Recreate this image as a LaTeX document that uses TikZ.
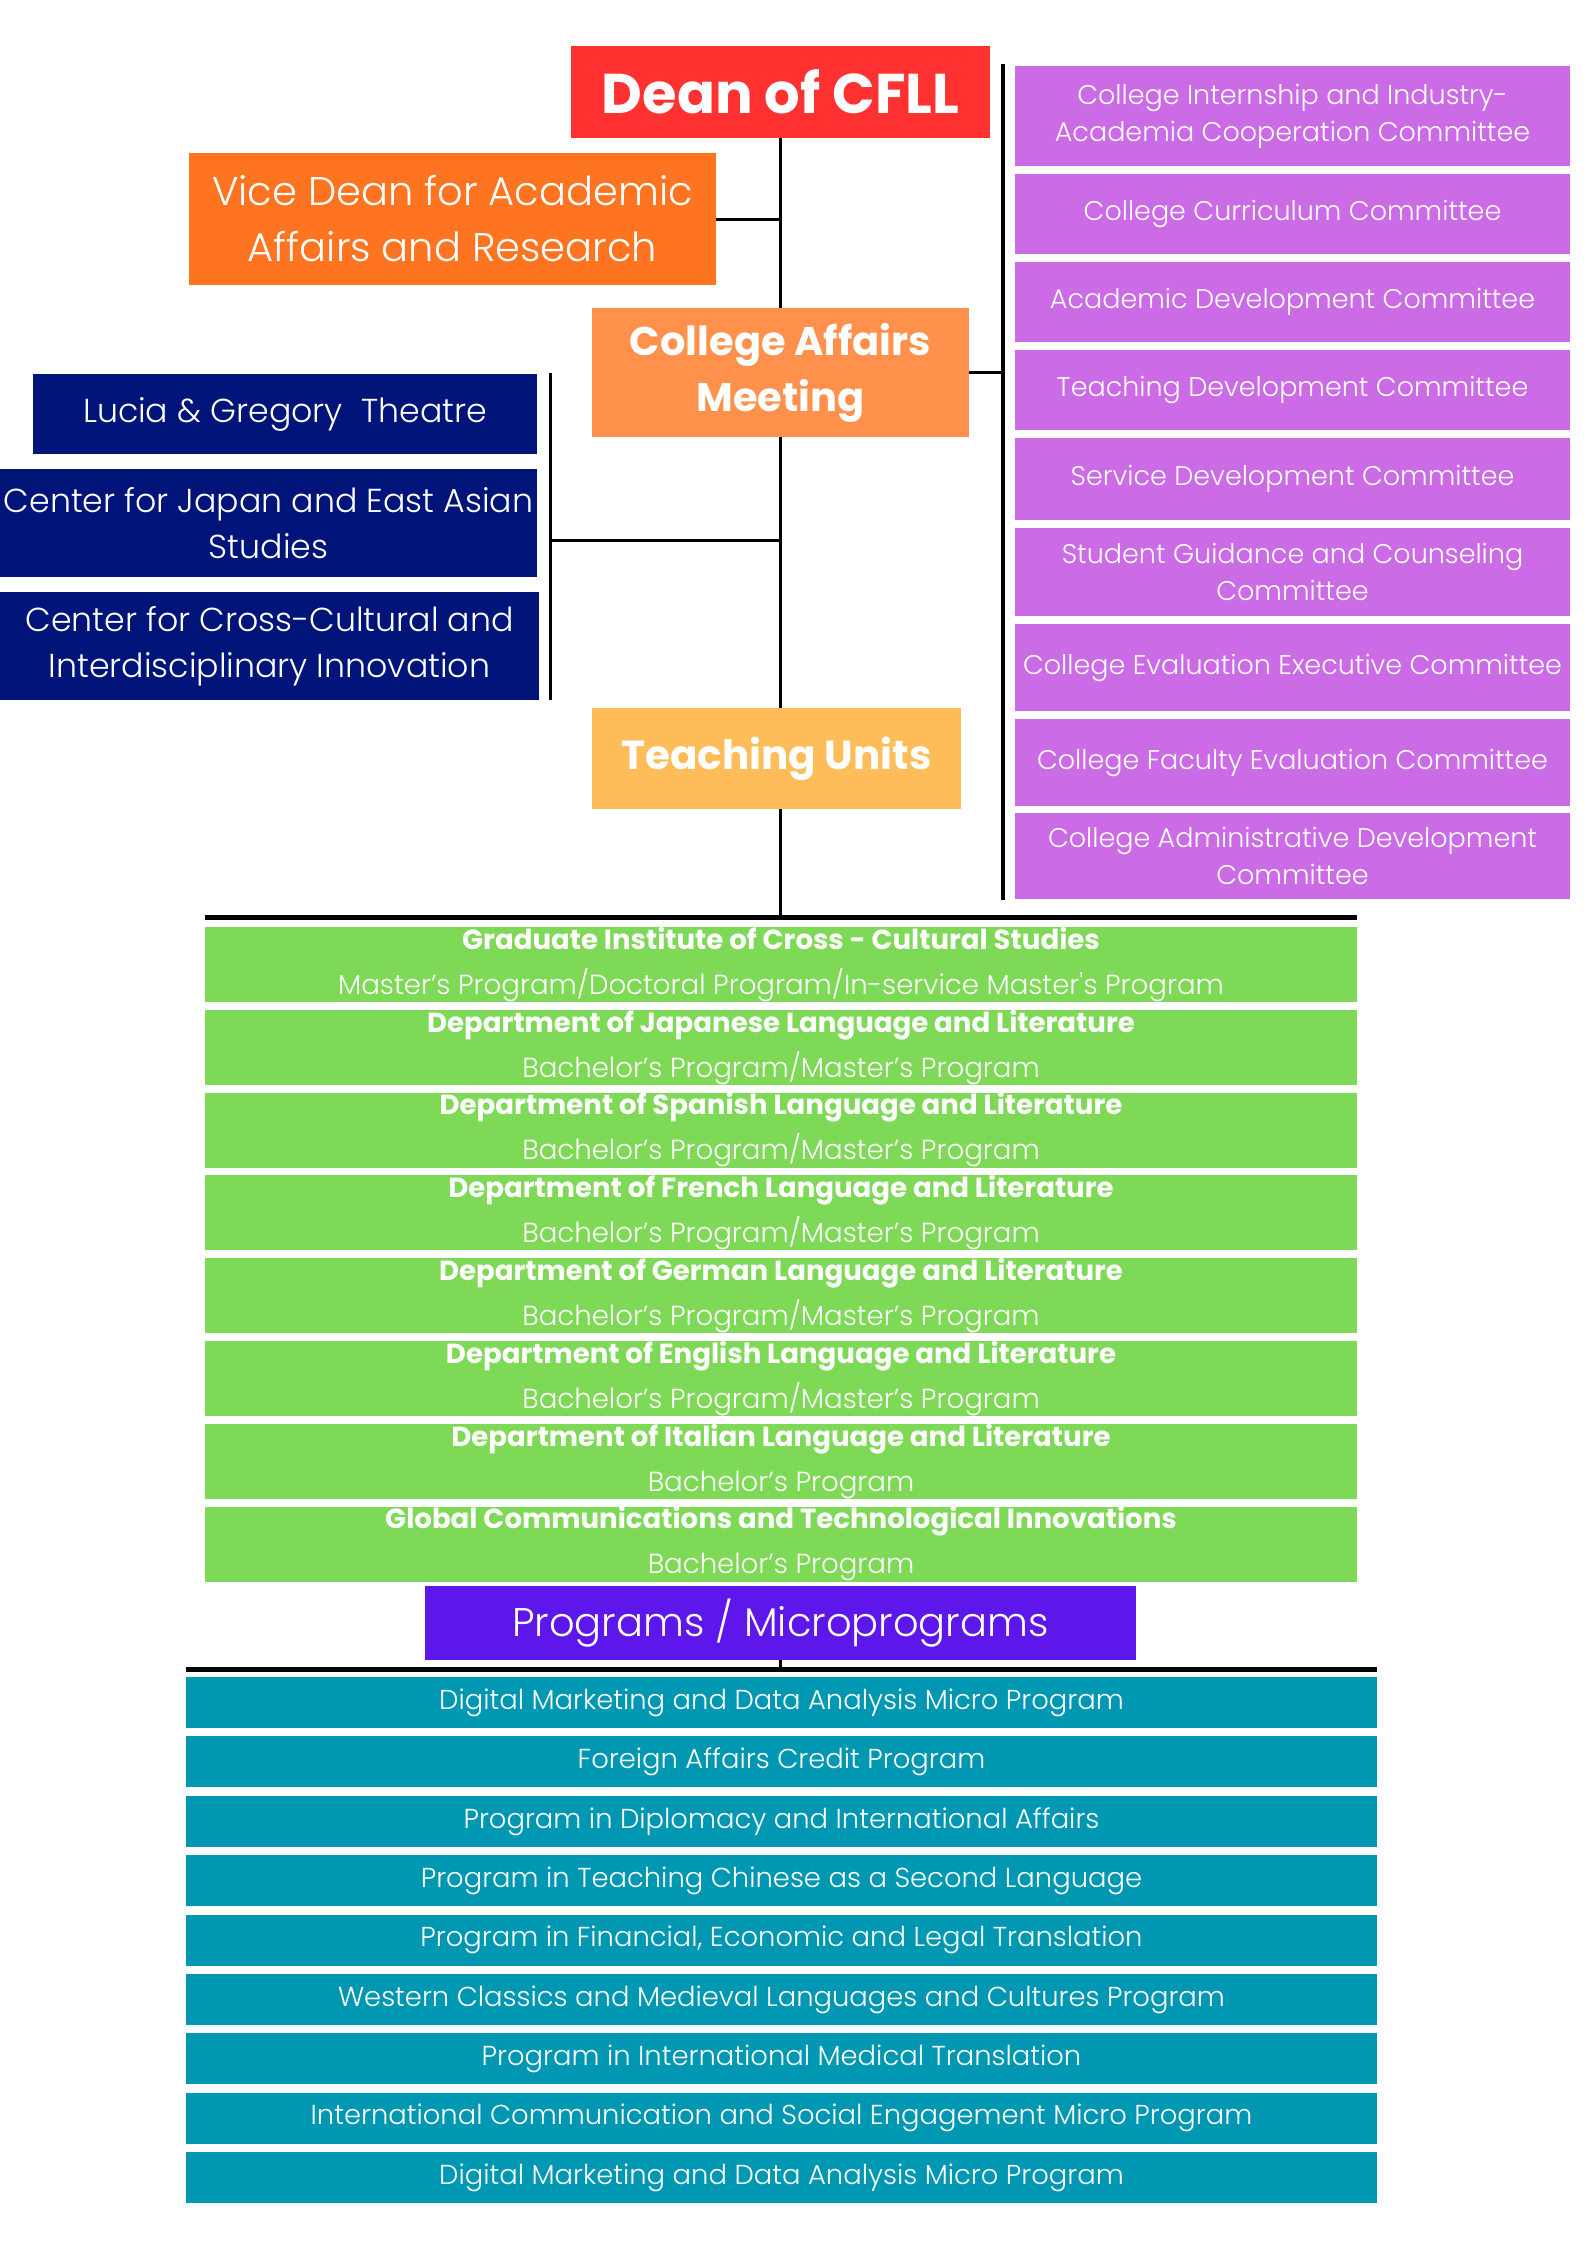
\documentclass[tikz,border=0pt]{standalone}
\usepackage{fontspec}
\setmainfont{Poppins}
\IfFontExistsTF{Poppins Light}{\newfontfamily\lightfont{Poppins Light}}{\newfontfamily\lightfont{Poppins}}
\usepackage{tikz}
\usetikzlibrary{positioning}
\definecolor{deanred}{HTML}{FF3131}
\definecolor{viceorange}{HTML}{FF7420}
\definecolor{camorange}{HTML}{FF914D}
\definecolor{tuyellow}{HTML}{FFBD59}
\definecolor{compurple}{HTML}{CB6CE6}
\definecolor{ctrnavy}{HTML}{00147A}
\definecolor{depgreen}{HTML}{7ED957}
\definecolor{prgviolet}{HTML}{5E17EB}
\definecolor{micteal}{HTML}{0097B2}
\tikzset{
  orgbox/.style = {align=center, inner sep=0pt, text=white, draw=none},
  org_dean/.style = {orgbox, fill=deanred, minimum width=419pt, minimum height=92pt,
    font=\fontsize{56}{60}\selectfont\bfseries},% doyen
  org_vice/.style = {orgbox, fill=viceorange, minimum width=527pt, minimum height=132pt,
    font=\fontsize{40}{56}\selectfont\lightfont},% vice-doyen
  org_cam/.style = {orgbox, fill=camorange, minimum width=377pt, minimum height=129pt,
    font=\fontsize{40}{56}\selectfont\bfseries},% conseil
  org_tu/.style = {orgbox, fill=tuyellow, minimum width=369pt, minimum height=101pt,
    font=\fontsize{40.5}{44}\selectfont\bfseries},% unites
  org_com/.style = {orgbox, fill=compurple, minimum width=555pt,
    font=\fontsize{27}{37}\selectfont\lightfont},% comites
  org_ctr/.style = {orgbox, fill=ctrnavy, minimum height=108pt,
    font=\fontsize{33.2}{46}\selectfont\lightfont},% centres
  org_dep/.style = {orgbox, fill=depgreen, minimum width=1152pt, minimum height=75pt,
    font=\fontsize{27.6}{45}\selectfont},% departements
  org_prg/.style = {orgbox, fill=prgviolet, minimum width=711pt, minimum height=74pt,
    font=\fontsize{40}{44}\selectfont\lightfont},% programmes
  org_mic/.style = {orgbox, fill=micteal, minimum width=1191pt, minimum height=51pt,
    font=\fontsize{27.4}{30}\selectfont\lightfont},% micro-programmes
  link/.style = {draw=black, line width=3pt},
  rail/.style = {draw=black, line width=4pt},
  bar/.style = {draw=black, line width=5pt}
}

\begin{document}
\begin{tikzpicture}[x=1pt,y=-1pt]
\useasboundingbox[fill=white] (0,0) rectangle (1587,2245);

\node [org_dean] (dean) at (780.5,92) {Dean of CFLL};
\node [org_vice] (vice) at (452.5,219) {Vice Dean for Academic\\Affairs and Research};
\node [org_cam] (cam) at (780.5,372.5) {College Affairs\\Meeting};
\node [org_tu] (tu) at (776.5,758.5) {Teaching Units};

% comites
\node [org_com, minimum height=100pt] (com1) at (1292.5,116) {College Internship and Industry-\\Academia Cooperation Committee};
\node [org_com, minimum height=80pt] (com2) at (1292.5,214) {College Curriculum Committee};
\node [org_com, minimum height=80pt] (com3) at (1292.5,302) {Academic Development Committee};
\node [org_com, minimum height=80pt] (com4) at (1292.5,390) {Teaching Development Committee};
\node [org_com, minimum height=82pt] (com5) at (1292.5,479) {Service Development Committee};
\node [org_com, minimum height=88pt] (com6) at (1292.5,572) {Student Guidance and Counseling\\Committee};
\node [org_com, minimum height=87pt] (com7) at (1292.5,667.5) {College Evaluation Executive Committee};
\node [org_com, minimum height=87pt] (com8) at (1292.5,762.5) {College Faculty Evaluation Committee};
\node [org_com, minimum height=86pt] (com9) at (1292.5,856) {College Administrative Development\\Committee};

% centres
\node [org_ctr, minimum width=504pt, minimum height=80pt] (ctr1) at (285,414) {Lucia \& Gregory\ \ Theatre};
\node [org_ctr, minimum width=537pt] (ctr2) at (268.5,523) {Center for Japan and East Asian\\Studies};
\node [org_ctr, minimum width=539pt] (ctr3) at (269.5,646) {Center for Cross-Cultural and\\Interdisciplinary Innovation};

% departements
\node [org_dep] (dep1) at (781,964.5) {\textbf{Graduate Institute of Cross - Cultural Studies}\\{\lightfont Master’s Program/Doctoral Program/In-service Master's Program}};
\node [org_dep, below=7.4pt of dep1] (dep2) {\textbf{Department of Japanese Language and Literature}\\{\lightfont Bachelor’s Program/Master’s Program}};
\node [org_dep, below=7.4pt of dep2] (dep3) {\textbf{Department of Spanish Language and Literature}\\{\lightfont Bachelor’s Program/Master’s Program}};
\node [org_dep, below=7.4pt of dep3] (dep4) {\textbf{Department of French Language and Literature}\\{\lightfont Bachelor’s Program/Master’s Program}};
\node [org_dep, below=7.4pt of dep4] (dep5) {\textbf{Department of German Language and Literature}\\{\lightfont Bachelor’s Program/Master’s Program}};
\node [org_dep, below=7.4pt of dep5] (dep6) {\textbf{Department of English Language and Literature}\\{\lightfont Bachelor’s Program/Master’s Program}};
\node [org_dep, below=7.4pt of dep6] (dep7) {\textbf{Department of Italian Language and Literature}\\{\lightfont Bachelor’s Program}};
\node [org_dep, below=7.4pt of dep7] (dep8) {\textbf{Global Communications and Technological Innovations}\\{\lightfont Bachelor’s Program}};

\node [org_prg] (prg) at (780.5,1623) {Programs / Microprograms};

% micro-programmes
\node [org_mic] (mic1) at (781.5,1702.5) {Digital Marketing and Data Analysis Micro Program};
\node [org_mic, below=8pt of mic1] (mic2) {Foreign Affairs Credit Program};
\node [org_mic, below=8pt of mic2] (mic3) {Program in Diplomacy and International Affairs};
\node [org_mic, below=8pt of mic3] (mic4) {Program in Teaching Chinese as a Second Language};
\node [org_mic, below=8pt of mic4] (mic5) {Program in Financial, Economic and Legal Translation};
\node [org_mic, below=8pt of mic5] (mic6) {Western Classics and Medieval Languages and Cultures Program};
\node [org_mic, below=8pt of mic6] (mic7) {Program in International Medical Translation};
\node [org_mic, below=8pt of mic7] (mic8) {International Communication and Social Engagement Micro Program};
\node [org_mic, below=8pt of mic8] (mic9) {Digital Marketing and Data Analysis Micro Program};

\coordinate (rail_t) at (1003,64);
\coordinate (rail_b) at (1003,900);
\coordinate (lrail_t) at (550,373);
\coordinate (lrail_b) at (550,700);
\coordinate (lrail_j) at (550,540);
\coordinate (bar1_w) at (205,917);
\coordinate (bar1_e) at (1357,917);
\coordinate (bar2_w) at (186,1669);
\coordinate (bar2_e) at (1377,1669);

\draw [link] (dean.south) -- (cam.north);
\draw [link] (cam.south) -- (cam.south |- tu.north);
\draw [link] (cam.south |- tu.south) -- (cam.south |- bar1_w);
\draw [link] (vice.east) -- (vice.east -| dean.south);
\draw [link] (cam.east) -- (cam.east -| rail_t);
\draw [rail] (rail_t) -- (rail_b);
\draw [link] (lrail_t) -- (lrail_b);
\draw [link] (lrail_j) -- (lrail_j -| dean.south);
\draw [bar] (bar1_w) -- (bar1_e);
\draw [link] (prg.south) -- (prg.south |- bar2_w);
\draw [bar] (bar2_w) -- (bar2_e);
\end{tikzpicture}
\end{document}
